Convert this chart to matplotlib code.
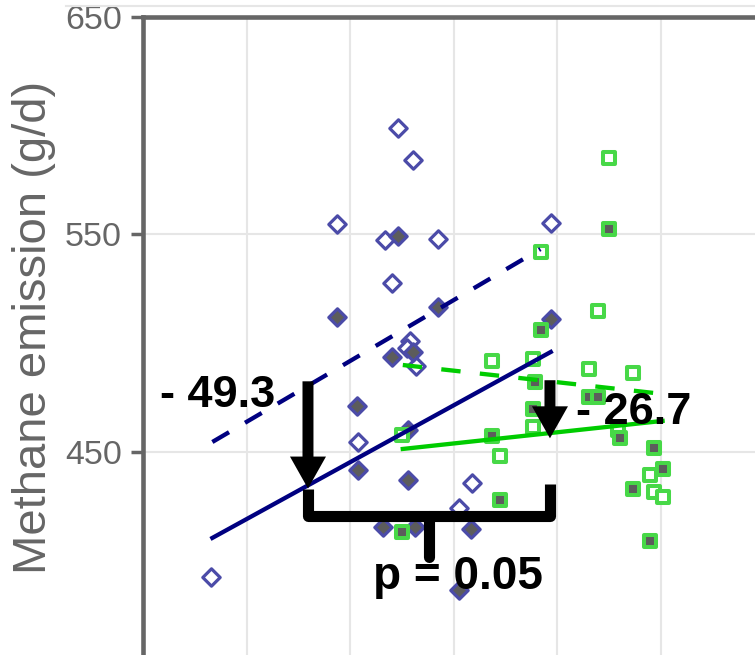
import matplotlib.pyplot as plt
from matplotlib.lines import Line2D

plt.rcParams['font.family'] = ['Liberation Sans', 'DejaVu Sans']

# blue diamonds: open (dashed fit) and filled (solid fit)
blue_open_x = [0.66, 1.87, 2.34, 2.41, 2.46, 2.61, 2.85, 3.94, 2.08, 3.18, 3.05, 2.58, 2.55, 2.64]
blue_open_y = [392.5, 554.8, 547.5, 527.7, 599.0, 584.3, 547.9, 555.3, 454.6, 435.7, 424.3, 501.0, 497.8, 489.5]
blue_fill_x = [1.87, 2.46, 2.85, 3.94, 2.41, 2.61, 2.07, 2.56, 2.08, 2.56, 2.32, 2.63, 3.17, 3.05]
blue_fill_y = [512.1, 549.3, 516.7, 511.1, 493.7, 496.0, 471.1, 460.1, 441.7, 437.1, 415.5, 415.5, 414.6, 386.6]

# green squares: open (dashed fit) and filled (solid fit)
green_open_x = [4.50, 3.85, 4.40, 3.37, 3.77, 4.31, 4.73, 3.77, 2.50, 3.45, 4.59, 4.90, 4.94, 5.02]
green_open_y = [585.2, 542.0, 514.8, 491.8, 492.8, 488.2, 486.3, 461.5, 457.8, 448.2, 460.1, 439.4, 431.6, 429.3]
green_fill_x = [4.50, 3.85, 3.79, 4.31, 4.40, 3.77, 3.37, 4.61, 4.94, 5.02, 4.73, 4.90, 3.45, 2.50]
green_fill_y = [552.5, 506.1, 482.2, 475.3, 475.3, 469.8, 457.4, 456.4, 451.8, 442.2, 433.0, 409.1, 427.9, 413.2]

# fitted lines (start, end)
blue_dash_x, blue_dash_y = [0.67, 3.84], [454.6, 543.3]
blue_solid_x, blue_solid_y = [0.67, 3.94], [410.5, 496.0]
green_dash_x, green_dash_y = [2.51, 5.02], [490.0, 476.7]
green_solid_x, green_solid_y = [2.51, 5.02], [451.4, 464.3]

# differences shown by the arrows
diff_labels = ['- 49.3', '- 26.7']
diff_values = [49.3, 26.7]
arrow_x = [1.594, 3.932]
arrow_top = [482.5, 483.0]
p_label = 'p = 0.05'

y_ticks = [450, 550, 650]

navy = '#000080'
diamond_edge = '#4b4ba8'
green_line = '#00cc00'
square_edge = '#47d847'
grey_fill = '#5c5c5c'
axis_grey = '#666666'

fig = plt.figure(figsize=(7.55, 6.55), dpi=100)
ax = fig.add_axes([143 / 755, 0, 612 / 755, 638 / 655])
ax.set_xlim(0, 612 / 103.5)
ax.set_ylim(650 - 638 / 2.175, 650)

ax.set_xticks([1, 2, 3, 4, 5])
ax.set_yticks(y_ticks)
ax.grid(True, color='#e6e6e6', lw=1.5, zorder=0)
ax.set_axisbelow(True)
ax.tick_params(axis='x', length=0, labelbottom=False)
ax.tick_params(axis='y', length=9, width=2.5, color=axis_grey, labelsize=24.5,
               labelcolor=axis_grey, pad=6)
for side in ['right', 'bottom']:
    ax.spines[side].set_visible(False)
for side in ['left', 'top']:
    ax.spines[side].set_color(axis_grey)
    ax.spines[side].set_linewidth(3.3)

# markers
ax.scatter(blue_open_x, blue_open_y, marker='D', s=78, facecolor='white',
           edgecolor=diamond_edge, linewidths=2.3, zorder=3)
ax.scatter(blue_fill_x, blue_fill_y, marker='D', s=78, facecolor=grey_fill,
           edgecolor=diamond_edge, linewidths=2.3, zorder=3)
ax.scatter(green_open_x, green_open_y, marker='s', s=82, facecolor='white',
           edgecolor=square_edge, linewidths=2.9, zorder=3)
ax.scatter(green_fill_x, green_fill_y, marker='s', s=82, facecolor=grey_fill,
           edgecolor=square_edge, linewidths=2.9, zorder=3)

# regression lines
ax.plot(blue_dash_x, blue_dash_y, color=navy, lw=3.1, dashes=(4.5, 4.3), zorder=4)
ax.plot(blue_solid_x, blue_solid_y, color=navy, lw=3.1, zorder=4)
ax.plot(green_dash_x, green_dash_y, color=green_line, lw=3.1, dashes=(4.5, 4.5), zorder=4)
ax.plot(green_solid_x, green_solid_y, color=green_line, lw=3.1, zorder=4)

# arrows for the two differences
tips = []
for x, top, d in zip(arrow_x, arrow_top, diff_values):
    ax.arrow(x, top, 0, -d, width=0.106, head_width=0.348, head_length=14.7,
             length_includes_head=True, color='black', lw=0, zorder=6)
    tips.append(top - d)

# bracket joining both arrows
bracket_y = 420.5
ax.plot([arrow_x[0], arrow_x[0], arrow_x[1], arrow_x[1]],
        [tips[0], bracket_y, bracket_y, 435.3],
        color='black', lw=8, solid_joinstyle='round', solid_capstyle='butt', zorder=6)
ax.plot([2.763, 2.763], [bracket_y, 401.7], color='black', lw=8,
        solid_capstyle='round', zorder=6)

ax.text(0.725, 470.7, diff_labels[0], fontsize=32.5, fontweight='bold',
        ha='center', va='baseline', zorder=7)
ax.text(4.744, 462.9, diff_labels[1], fontsize=32.5, fontweight='bold',
        ha='center', va='baseline', zorder=7)
ax.text(3.043, 387.0, p_label, fontsize=33, fontweight='bold',
        ha='center', va='baseline', zorder=7)

fig.text(34 / 755, 1 - 327 / 655, 'Methane emission (g/d)', rotation=90,
         fontsize=34, color=axis_grey, ha='center', va='center')
fig.add_artist(Line2D([66 / 755, 1], [1 - 6 / 655, 1 - 6 / 655],
                      color='#e6e6e6', lw=1.5))

fig.savefig('out.png', dpi=100)
